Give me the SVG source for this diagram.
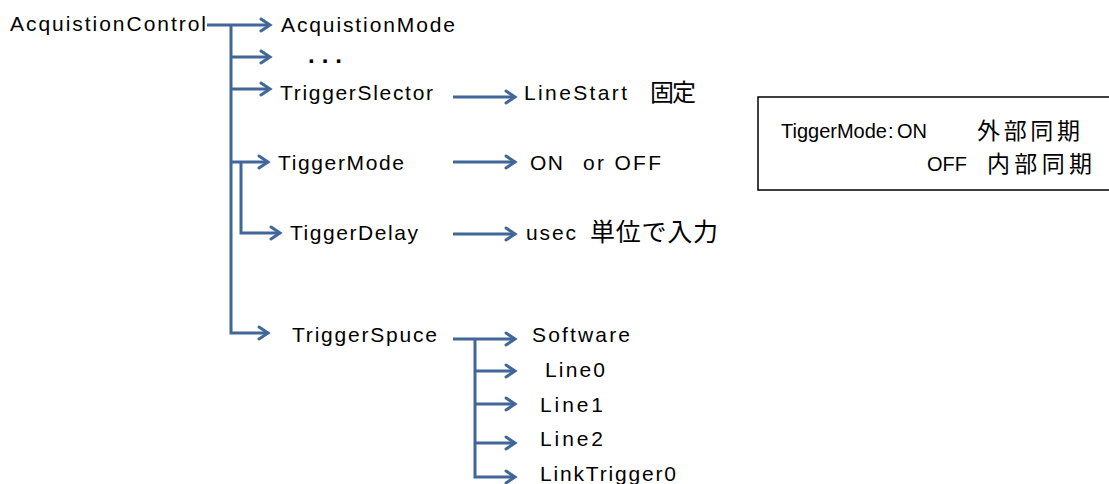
<svg xmlns="http://www.w3.org/2000/svg" width="1109" height="484" viewBox="0 0 1109 484">
  <style>
    .t { font-family: "Liberation Sans", "Noto Sans CJK JP", sans-serif; font-size: 21px; fill: #000; }
    .s { font-family: "Liberation Sans", "Noto Sans CJK JP", sans-serif; font-size: 20px; fill: #000; }
    .j { font-family: "Noto Sans CJK JP", sans-serif; font-size: 24px; fill: #000; }
    .c { fill: none; stroke: #41679A; stroke-width: 3; }
  </style>
  <defs>
    <marker id="ah" markerUnits="userSpaceOnUse" markerWidth="14" markerHeight="16" refX="11" refY="8" orient="auto" viewBox="0 0 14 16">
      <path d="M2,2 L11,8 L2,14" fill="none" stroke="#41679A" stroke-width="3" stroke-linecap="round" stroke-linejoin="miter"/>
    </marker>
  </defs>
  <rect width="1109" height="484" fill="#fff"/>

  <g id="connectors">
    <path class="c" d="M207,25 H270" marker-end="url(#ah)"/>
    <path class="c" d="M231,25 V333 H268" marker-end="url(#ah)"/>
    <path class="c" d="M231,57 H270" marker-end="url(#ah)"/>
    <path class="c" d="M231,89 H270" marker-end="url(#ah)"/>
    <path class="c" d="M231,162 H268" marker-end="url(#ah)"/>
    <path class="c" d="M241,162 V233 H280" marker-end="url(#ah)"/>
    <path class="c" d="M453,97 H515" marker-end="url(#ah)"/>
    <path class="c" d="M453,162 H515" marker-end="url(#ah)"/>
    <path class="c" d="M453,234 H515" marker-end="url(#ah)"/>
    <path class="c" d="M453,339 H515" marker-end="url(#ah)"/>
    <path class="c" d="M475,339 V477 H515" marker-end="url(#ah)"/>
    <path class="c" d="M475,371 H515" marker-end="url(#ah)"/>
    <path class="c" d="M475,404 H515" marker-end="url(#ah)"/>
    <path class="c" d="M475,443 H515" marker-end="url(#ah)"/>
  </g>

  <g id="AcquistionControl"><text class="t" x="10" y="31" textLength="196" lengthAdjust="spacing">AcquistionControl</text></g>
  <g id="AcquistionMode"><text class="t" x="281" y="32" textLength="174" lengthAdjust="spacing">AcquistionMode</text></g>
  <g id="ellipsis"><text class="t" x="308" y="63" style="font-weight:bold;font-size:24px;letter-spacing:7px">...</text></g>
  <g id="TriggerSlector"><text class="t" x="280" y="100" textLength="153" lengthAdjust="spacing">TriggerSlector</text></g>
  <g id="LineStart">
    <text class="t" x="524" y="100" textLength="103" lengthAdjust="spacing">LineStart</text>
    <text class="j" x="650" y="101" textLength="46" lengthAdjust="spacing">固定</text>
  </g>
  <g id="TiggerMode"><text class="t" x="278" y="170" textLength="126" lengthAdjust="spacing">TiggerMode</text></g>
  <g id="OnOff">
    <text class="t" x="530" y="170" textLength="33" lengthAdjust="spacing">ON</text>
    <text class="t" x="583" y="170" textLength="78" lengthAdjust="spacing">or OFF</text>
  </g>
  <g id="TiggerDelay"><text class="t" x="290" y="240" textLength="128" lengthAdjust="spacing">TiggerDelay</text></g>
  <g id="usec">
    <text class="t" x="526" y="240" textLength="50" lengthAdjust="spacing">usec</text>
    <text class="j" x="590" y="241" style="font-size:25px" textLength="128" lengthAdjust="spacing">単位で入力</text>
  </g>
  <g id="TriggerSpuce"><text class="t" x="292" y="342" textLength="145" lengthAdjust="spacing">TriggerSpuce</text></g>
  <g id="Software"><text class="t" x="532" y="342" textLength="98" lengthAdjust="spacing">Software</text></g>
  <g id="Line0"><text class="t" x="545" y="377" textLength="60" lengthAdjust="spacing">Line0</text></g>
  <g id="Line1"><text class="t" x="540" y="412" textLength="63" lengthAdjust="spacing">Line1</text></g>
  <g id="Line2"><text class="t" x="540" y="446" textLength="63" lengthAdjust="spacing">Line2</text></g>
  <g id="LinkTrigger0"><text class="t" x="540" y="481" textLength="136" lengthAdjust="spacing">LinkTrigger0</text></g>

  <g id="note">
    <rect x="758" y="97" width="360" height="93" fill="#fff" stroke="#000" stroke-width="1.5"/>
    <text class="s" x="781" y="138">TiggerMode</text>
    <text class="s" x="888" y="138">:</text>
    <text class="s" x="897" y="138">ON</text>
    <text class="j" x="977" y="139" style="font-size:23px" textLength="103" lengthAdjust="spacing">外部同期</text>
    <text class="s" x="927" y="171">OFF</text>
    <text class="j" x="987" y="172" style="font-size:23px" textLength="105" lengthAdjust="spacing">内部同期</text>
  </g>
</svg>
